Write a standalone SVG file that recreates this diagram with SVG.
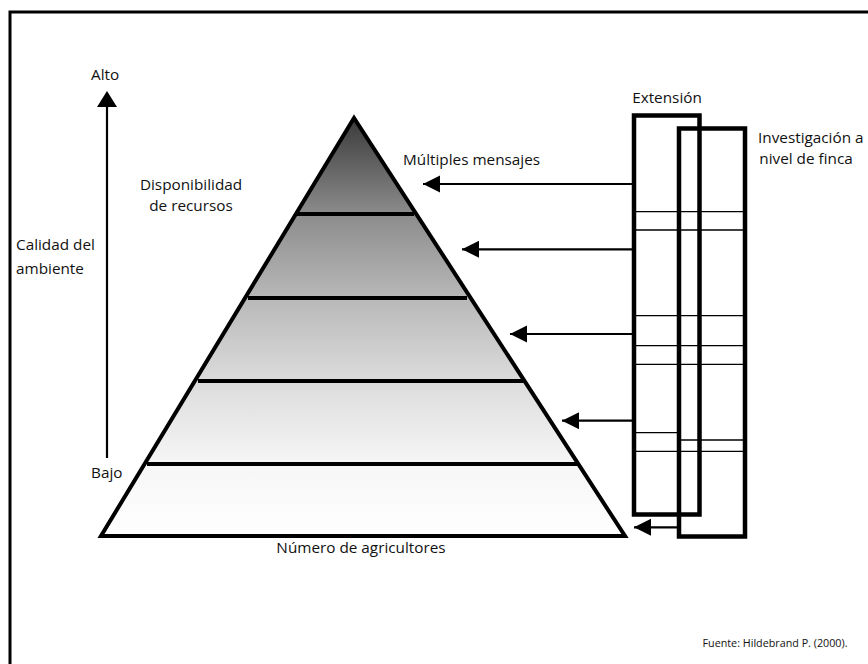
<svg xmlns="http://www.w3.org/2000/svg" width="868" height="664" viewBox="0 0 868 664">
<style>
text{font-family:"Open Sans","Liberation Sans",sans-serif;font-size:15.3px;fill:#111}
.ln{stroke:#000;stroke-width:4;fill:none}
.thin{stroke:#000;stroke-width:1.3}
.box{fill:none;stroke:#000;stroke-width:4.5}
.arr{stroke:#000;stroke-width:2.2}
</style>
<defs>
<linearGradient id="g" gradientUnits="userSpaceOnUse" x1="0" y1="118" x2="0" y2="536">
<stop offset="0" stop-color="#3a3a3a"/>
<stop offset="0.23" stop-color="#8c8c8c"/>
<stop offset="0.43" stop-color="#b8b8b8"/>
<stop offset="0.63" stop-color="#dcdcdc"/>
<stop offset="0.83" stop-color="#f6f6f6"/>
<stop offset="1" stop-color="#ffffff"/>
</linearGradient>
<marker id="ah" markerWidth="18" markerHeight="18" refX="17" refY="8.5" orient="auto" markerUnits="userSpaceOnUse">
<path d="M17,8.5 L0,0 L0,17 Z" fill="#000"/>
</marker>
</defs>
<rect x="10" y="12" width="900" height="700" fill="none" stroke="#000" stroke-width="3"/>
<g id="pyramid">
<polygon points="354,118 101,536 625,536" fill="url(#g)"/>
<line class="ln" x1="296" y1="214" x2="414" y2="214"/>
<line class="ln" x1="248" y1="298" x2="467" y2="298"/>
<line class="ln" x1="198" y1="381" x2="523" y2="381"/>
<line class="ln" x1="147" y1="464" x2="578" y2="464"/>
<polygon class="ln" points="354,118 101,536 625,536" stroke-linejoin="miter"/>
</g>
<g id="axis">
<line x1="107" y1="458" x2="107" y2="105" stroke="#000" stroke-width="2.2"/>
<polygon points="107,91 97,107 117,107" fill="#000"/>
<text x="91" y="80">Alto</text>
<text x="91" y="478">Bajo</text>
<text x="16" y="250">Calidad del</text>
<text x="16" y="274">ambiente</text>
</g>
<g id="labels">
<text x="191" y="190" text-anchor="middle">Disponibilidad</text>
<text x="191" y="211" text-anchor="middle">de recursos</text>
<text x="403" y="165">Múltiples mensajes</text>
<text x="361" y="553" text-anchor="middle">Número de agricultores</text>
<text x="775" y="647" text-anchor="middle" style="font-size:10.5px" textLength="145" lengthAdjust="spacingAndGlyphs">Fuente: Hildebrand P. (2000).</text>
</g>
<g id="extension">
<rect class="box" x="634" y="115.5" width="65.5" height="399"/>
<text x="667" y="103" text-anchor="middle">Extensión</text>
</g>
<g id="investigacion">
<rect class="box" x="679" y="128.5" width="66" height="408"/>
<text x="758" y="143">Investigación a</text>
<text x="806" y="164" text-anchor="middle">nivel de finca</text>
</g>
<g id="bands">
<line class="thin" x1="636" y1="211.7" x2="745" y2="211.7"/>
<line class="thin" x1="636" y1="230" x2="745" y2="230"/>
<line class="thin" x1="636" y1="315.7" x2="745" y2="315.7" stroke="#444"/>
<line class="thin" x1="636" y1="345.7" x2="745" y2="345.7"/>
<line class="thin" x1="636" y1="364.3" x2="745" y2="364.3"/>
<line class="thin" x1="636" y1="432.7" x2="679" y2="432.7" stroke="#444"/>
<line class="thin" x1="681" y1="440" x2="745" y2="440"/>
<line class="thin" x1="636" y1="451.3" x2="745" y2="451.3"/>
</g>
<g id="connectors">
<line class="arr" x1="632" y1="184" x2="423" y2="184" marker-end="url(#ah)"/>
<line class="arr" x1="632" y1="249.3" x2="462" y2="249.3" marker-end="url(#ah)"/>
<line class="arr" x1="632" y1="334" x2="510" y2="334" marker-end="url(#ah)"/>
<line class="arr" x1="632" y1="420.7" x2="562" y2="420.7" marker-end="url(#ah)"/>
<line class="arr" x1="677" y1="527.3" x2="634" y2="527.3" marker-end="url(#ah)"/>
</g>
</svg>
